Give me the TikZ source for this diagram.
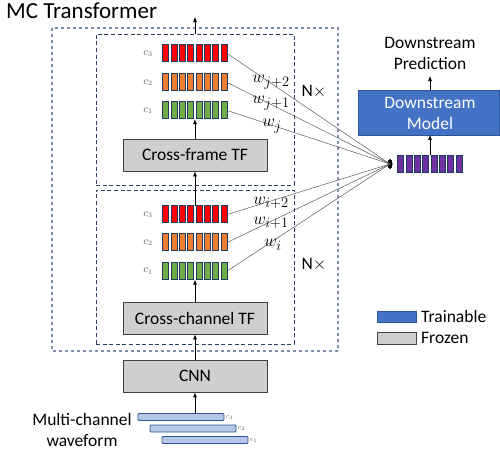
\documentclass[tikz,border=0pt]{standalone}
\usepackage{fontspec}
\setmainfont{Carlito}
\usetikzlibrary{arrows.meta,shapes.geometric}
\definecolor{dashc}{HTML}{2F3F5F}
\definecolor{dasho}{HTML}{7F8FA9}
\definecolor{barb}{HTML}{1F3864}
\definecolor{redf}{HTML}{FF0000}
\definecolor{orangef}{HTML}{ED7D31}
\definecolor{greenf}{HTML}{70AD47}
\definecolor{purplef}{HTML}{7030A0}
\definecolor{frozenf}{HTML}{D0CECE}
\definecolor{trainf}{HTML}{4472C4}
\definecolor{trainb}{HTML}{2F5597}
\definecolor{wavef}{HTML}{B4C7E7}
\definecolor{labc}{HTML}{595959}
\newcommand{\featrow}[4]{%
  \node[minimum width=64pt, minimum height=17pt, inner sep=0pt] (#1) at (#2,#3) {};
  \foreach \k in {0,...,7} {\draw[fill=#4, draw=barb, line width=0.8pt] (#1.north west) ++(\k*8.3,0) rectangle ++(6,17);}
}
\begin{document}
\begin{tikzpicture}[x=1pt,y=-1pt,
  dashout/.style={draw=dasho, line width=1.5pt, dash pattern=on 3pt off 3pt},
  dashbox/.style={draw=dashc, line width=1pt, dash pattern=on 4pt off 2.6pt},
  frozenbox/.style={draw=black!75, fill=frozenf, line width=0.9pt, minimum width=144pt, minimum height=32pt, inner sep=0pt, font=\fontsize{17.5}{20}\selectfont},
  conn/.style={-{Latex[length=5pt,width=4pt]}, line width=0.6pt},
  wline/.style={draw=black!65, line width=0.5pt},
  txt/.style={font=\fontsize{17.5}{21}\selectfont, align=center, inner sep=0pt},
  wlab/.style={font=\fontsize{19}{22}\selectfont, inner sep=0pt},
  clab/.style={font=\fontsize{10.5}{12}\selectfont, text=labc, inner sep=0pt},
  cwlab/.style={font=\fontsize{7.5}{9}\selectfont, text=labc, inner sep=0pt},
  wavebar/.style={draw=trainb, fill=wavef, line width=0.9pt, rounded corners=1pt, minimum width=86pt, minimum height=7pt, inner sep=0pt}
]
\useasboundingbox (0,0) rectangle (500,453);

% title
\node[anchor=west, font=\fontsize{23}{26}\selectfont, inner sep=0pt] (title) at (6,11) {MC Transformer};

% dashed boxes
\draw[dashout] (52,28) rectangle (338,351);
\node[dashbox, minimum width=198pt, minimum height=151pt, inner sep=0pt] (intop) at (195,109.5) {};
\node[dashbox, minimum width=198pt, minimum height=154pt, inner sep=0pt] (inbot) at (195,267) {};
\coordinate (outtop) at (195,17);

% top block
\featrow{tr}{195}{53.5}{redf}
\featrow{to}{195}{82.5}{orangef}
\featrow{tg}{195}{110.5}{greenf}
\node[clab] (tc3) at (148,53.5) {$c_3$};
\node[clab] (tc2) at (148,82.5) {$c_2$};
\node[clab] (tc1) at (148,110.5) {$c_1$};
\node[frozenbox] (cf) at (195,155) {Cross-frame TF};

% bottom block
\featrow{br}{195}{214.5}{redf}
\featrow{bo}{195}{242.5}{orangef}
\featrow{bg}{195}{271}{greenf}
\node[clab] (bc3) at (148,214.5) {$c_3$};
\node[clab] (bc2) at (148,242.5) {$c_2$};
\node[clab] (bc1) at (148,271) {$c_1$};
\node[frozenbox] (cc) at (195,318) {Cross-channel TF};

% CNN
\node[frozenbox] (cnn) at (195,376) {CNN};

% waveforms
\node[wavebar] (w3) at (181,417) {};
\node[wavebar] (w2) at (193,428.5) {};
\node[wavebar] (w1) at (205,440) {};
\node[cwlab, anchor=west] (wl3) at (w3.east) {\,$c_3$};
\node[cwlab, anchor=west] (wl2) at (w2.east) {\,$c_2$};
\node[cwlab, anchor=west] (wl1) at (w1.east) {\,$c_1$};
\node[txt] (mcw) at (82,430) {Multi-channel\\waveform};

% N x labels
\node[txt] (n1) at (314,92) {N$\times$};
\node[txt] (n2) at (314,265) {N$\times$};

% right side
\featrow{pu}{430}{164}{purplef}
\node[ellipse, fill=black, minimum width=5pt, minimum height=10pt, inner sep=0pt] (dot) at (390,164) {};
\draw[draw=trainb, fill=trainf, line width=0.9pt] (358,90) rectangle (499.5,135);
\node[txt, text=white] (dm) at (430,113) {Downstream\\Model};
\coordinate (dmS) at (430,135);
\coordinate (dmN) at (430,90);
\node[txt] (pred) at (430,53) {Downstream\\Prediction};
\coordinate (predS) at (430,76);

% legend
\draw[draw=trainb, fill=trainf, line width=0.9pt] (377,311) rectangle (416,322);
\draw[draw=black!75, fill=frozenf, line width=0.9pt] (377,332) rectangle (416,344);
\node[txt, anchor=west] (lt) at (421,316) {Trainable};
\node[txt, anchor=west] (lf) at (421,338) {Frozen};

% weight lines
\foreach \r in {tr,to,tg,br,bo,bg} {\draw[wline] (\r.east) -- (dot.center);}
\node[wlab] (wj2) at (271,82) {$w_{j+2}$};
\node[wlab] (wj1) at (271,103) {$w_{j+1}$};
\node[wlab] (wj) at (272,126) {$w_{j}$};
\node[wlab] (wi2) at (271,203) {$w_{i+2}$};
\node[wlab] (wi1) at (271,223) {$w_{i+1}$};
\node[wlab] (wi) at (273,245) {$w_{i}$};

% arrows
\draw[conn] (intop.north) -- (outtop);
\draw[conn] (cf.north) -- (tg.south);
\draw[conn] (br.north) -- (cf.south);
\draw[conn] (cc.north) -- (bg.south);
\draw[conn] (cnn.north) -- (cc.south);
\draw[conn] (cnn.south |- w3.north) -- (cnn.south);
\draw[conn] (pu.north) -- (dmS);
\draw[conn] (dmN) -- (predS);
\end{tikzpicture}
\end{document}
